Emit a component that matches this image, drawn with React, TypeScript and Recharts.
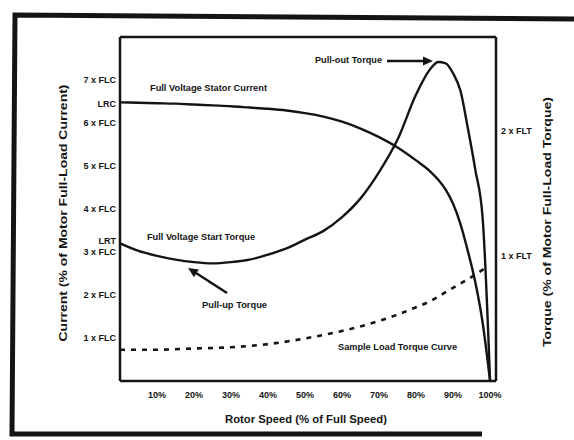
import React from 'react';
import { LineChart, Line, XAxis, YAxis } from 'recharts';

// rotor speed, % of full speed
const speed = [0, 5, 10, 15, 20, 25, 30, 35, 40, 45, 50, 55, 60, 65, 70, 75, 80, 84, 86, 88, 90, 92, 94, 96, 98, 100];
// full voltage stator current, multiples of FLC
const statorCurrent = [6.48, 6.47, 6.46, 6.45, 6.43, 6.41, 6.39, 6.36, 6.33, 6.29, 6.23, 6.15, 6.03, 5.87, 5.67, 5.43, 5.13, 4.86, 4.68, 4.45, 4.12, 3.65, 3.02, 2.3, 1.35, 0];
// full voltage start torque, multiples of FLT
const motorTorque = [1.1, 1.04, 1.0, 0.97, 0.95, 0.94, 0.95, 0.97, 1.01, 1.06, 1.13, 1.2, 1.31, 1.46, 1.67, 1.93, 2.29, 2.5, 2.55, 2.54, 2.46, 2.32, 2.02, 1.69, 1.3, 0];

const loadSpeed = [0, 10, 20, 30, 40, 50, 60, 70, 75, 80, 84, 88, 92, 96, 99];
const loadTorque = [0.25, 0.25, 0.26, 0.27, 0.295, 0.34, 0.4, 0.48, 0.53, 0.59, 0.64, 0.71, 0.78, 0.85, 0.91];

const speedTicks = [10, 20, 30, 40, 50, 60, 70, 80, 90, 100];
const currentTicks = [1, 2, 3, 3.25, 4, 5, 6, 6.45, 7];
const currentTickLabels = ['1 x FLC', '2 x FLC', '3 x FLC', 'LRT', '4 x FLC', '5 x FLC', '6 x FLC', 'LRC', '7 x FLC'];
const torqueTicks = [1, 2];
const torqueTickLabels = ['1 x FLT', '2 x FLT'];

const currentData = speed.map((s, i) => ({ speed: s, value: statorCurrent[i] }));
const torqueData = speed.map((s, i) => ({ speed: s, value: motorTorque[i] }));
const loadData = loadSpeed.map((s, i) => ({ speed: s, value: loadTorque[i] }));

const INK = '#141414';
const FONT = '"Liberation Sans", Arial, sans-serif';
const tickStyle = { fontSize: 9, fontWeight: 700, fill: INK, fontFamily: FONT };
const axisLine = { stroke: INK, strokeWidth: 2.5 };

const Note = ({ x, y, w, size = 9, children }: { x: number; y: number; w: number; size?: number; children: string }) => (
  <text
    x={x}
    y={y}
    fontSize={size}
    fontWeight={700}
    fill={INK}
    fontFamily={FONT}
    dominantBaseline="central"
    textLength={w}
    lengthAdjust="spacingAndGlyphs"
  >
    {children}
  </text>
);

export default function App() {
  return (
    <div style={{ position: 'absolute', left: 0, top: 0, width: 574, height: 440, background: '#fff', fontFamily: FONT }}>
      <LineChart width={574} height={440} margin={{ top: 36, right: 0, bottom: 29, left: 0 }}>
        <XAxis
          dataKey="speed"
          type="number"
          domain={[0, 101.6]}
          ticks={speedTicks}
          tickFormatter={(v: number) => `${v}%`}
          tick={tickStyle}
          tickLine={false}
          tickSize={0}
          tickMargin={11}
          axisLine={axisLine}
          height={30}
          allowDuplicatedCategory={false}
        />
        <XAxis
          xAxisId="top"
          orientation="top"
          dataKey="speed"
          type="number"
          domain={[0, 101.6]}
          tick={false}
          tickLine={false}
          axisLine={axisLine}
          height={1}
        />
        <YAxis
          yAxisId="left"
          type="number"
          domain={[0, 8]}
          ticks={currentTicks}
          interval={0}
          tickFormatter={(v: number) => currentTickLabels[currentTicks.indexOf(v)] ?? ''}
          tick={tickStyle}
          tickLine={false}
          tickSize={0}
          tickMargin={4}
          axisLine={axisLine}
          width={120}
        />
        <YAxis
          yAxisId="right"
          orientation="right"
          type="number"
          domain={[0, 2.75]}
          ticks={torqueTicks}
          interval={0}
          tickFormatter={(v: number) => torqueTickLabels[torqueTicks.indexOf(v)] ?? ''}
          tick={tickStyle}
          tickLine={false}
          tickSize={0}
          tickMargin={5}
          axisLine={axisLine}
          width={78}
        />
        <Line
          yAxisId="left"
          data={currentData}
          dataKey="value"
          type="monotone"
          stroke={INK}
          strokeWidth={2.4}
          dot={false}
          isAnimationActive={false}
        />
        <Line
          yAxisId="right"
          data={torqueData}
          dataKey="value"
          type="monotone"
          stroke={INK}
          strokeWidth={2.4}
          dot={false}
          isAnimationActive={false}
        />
        <Line
          yAxisId="right"
          data={loadData}
          dataKey="value"
          type="monotone"
          stroke={INK}
          strokeWidth={2.6}
          strokeDasharray="5 6"
          dot={false}
          isAnimationActive={false}
        />
      </LineChart>

      {/* scanned page frame, titles and callouts */}
      <svg width={574} height={440} style={{ position: 'absolute', left: 0, top: 0, pointerEvents: 'none' }}>
        <path d="M574 19 L15 15 L12 434 L482 434" fill="none" stroke={INK} strokeWidth={5} />

        <text
          transform="translate(63 213) rotate(-90)"
          fontSize={10}
          fontWeight={700}
          fill={INK}
          fontFamily={FONT}
          textAnchor="middle"
          dominantBaseline="central"
          textLength={257}
          lengthAdjust="spacingAndGlyphs"
        >
          Current (% of Motor Full-Load Current)
        </text>
        <text
          transform="translate(547 222) rotate(-90)"
          fontSize={10}
          fontWeight={700}
          fill={INK}
          fontFamily={FONT}
          textAnchor="middle"
          dominantBaseline="central"
          textLength={250}
          lengthAdjust="spacingAndGlyphs"
        >
          Torque (% of Motor Full-Load Torque)
        </text>
        <Note x={225} y={419} w={162} size={10}>Rotor Speed (% of Full Speed)</Note>

        <Note x={150} y={88} w={117}>Full Voltage Stator Current</Note>
        <Note x={147} y={237} w={108}>Full Voltage Start Torque</Note>
        <Note x={202} y={305} w={65}>Pull-up Torque</Note>
        <Note x={315} y={60} w={67}>Pull-out Torque</Note>
        <Note x={338} y={347} w={119}>Sample Load Torque Curve</Note>

        <line x1={387} y1={61} x2={425} y2={61} stroke={INK} strokeWidth={2.5} />
        <polygon points="433,61 423,56.5 423,65.5" fill={INK} />
        <line x1={227} y1={293} x2={196} y2={273} stroke={INK} strokeWidth={2.5} />
        <polygon points="188,268 198.8,269.6 194,277.2" fill={INK} />
      </svg>
    </div>
  );
}
